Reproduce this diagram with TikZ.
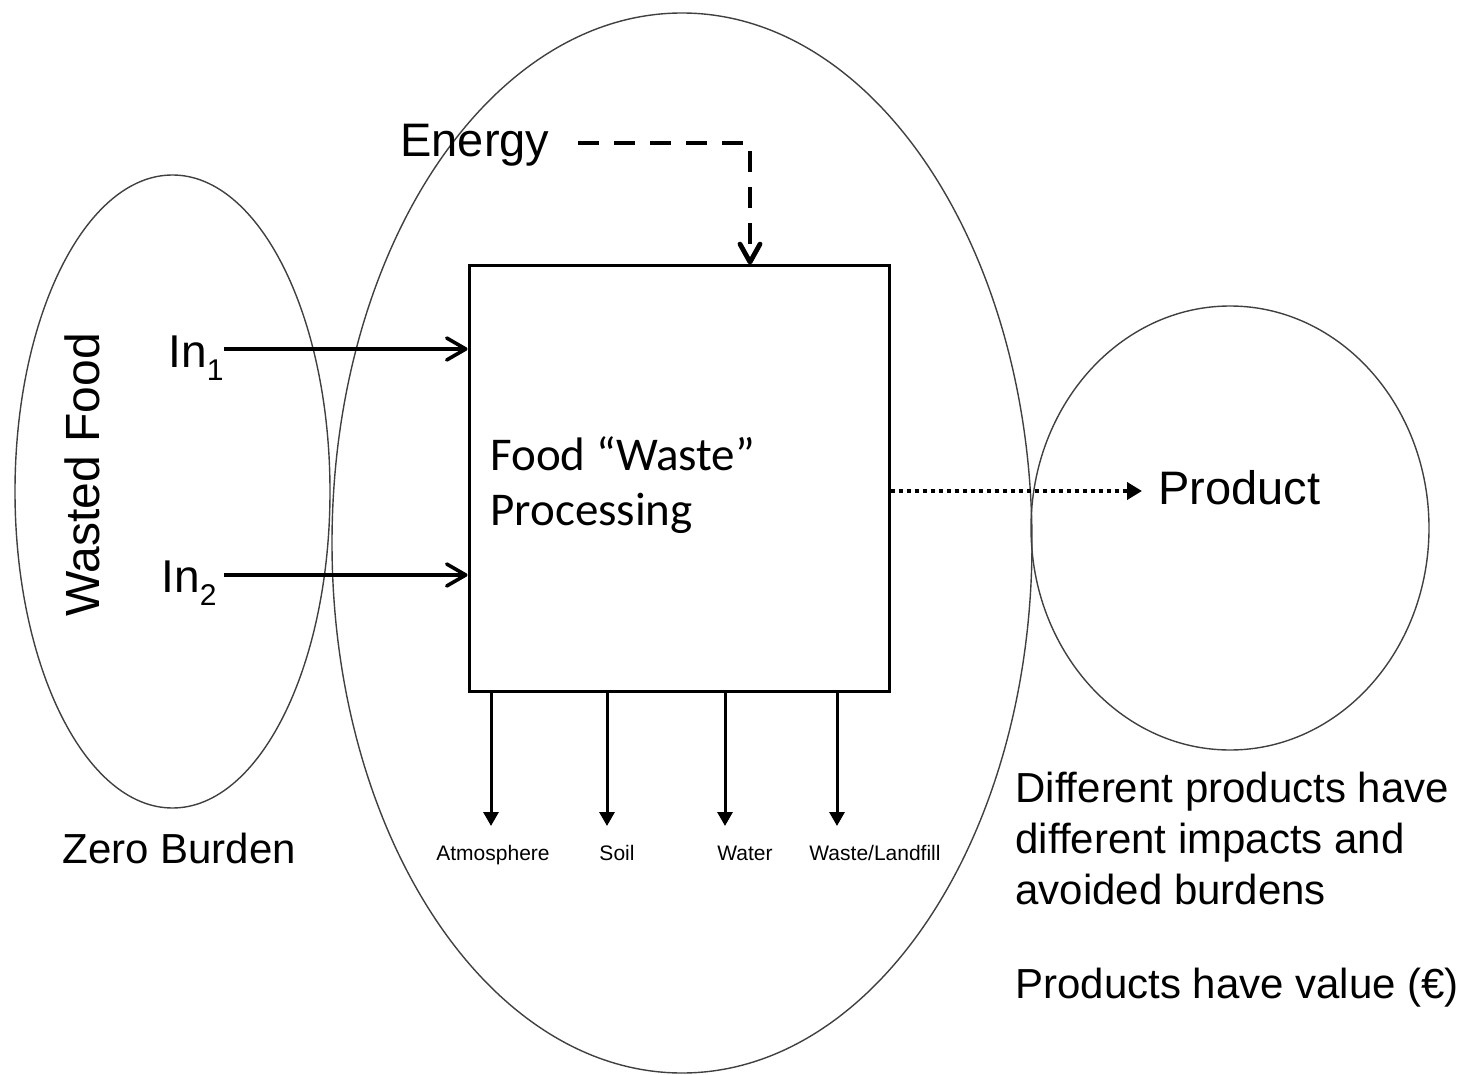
\documentclass[tikz,border=0pt]{standalone}
\usepackage{fontspec}
\setmainfont{Liberation Sans}
\newfontfamily\calibri{Carlito}
\usetikzlibrary{arrows.meta,shapes.geometric}
\begin{document}
\begin{tikzpicture}[x=0.5pt,y=-0.5pt,
  zone/.style={ellipse,draw=black!75,line width=0.7pt,inner sep=0pt},
  txt/.style={inner sep=0pt,font=\fontsize{23.5}{28}\selectfont},
  note/.style={inner sep=0pt,font=\fontsize{21}{25.5}\selectfont,align=left},
  small/.style={inner sep=0pt,font=\fontsize{10.5}{12}\selectfont},
  flow/.style={line width=1.8pt,-{Straight Barb[round,length=9.5pt,width=11pt]}},
  energyflow/.style={line width=2.4pt,dash pattern=on 10.5pt off 7.5pt,-{Straight Barb[round,length=9pt,width=10pt]}},
  outflow/.style={line width=1.5pt,-{Triangle[length=7pt,width=7.5pt]}},
  dotflow/.style={line width=2pt,dash pattern=on 2pt off 2pt,-{Triangle[length=7.5pt,width=8.5pt]}},
  procbox/.style={draw,line width=1.5pt,minimum width=210pt,minimum height=212.5pt,inner sep=0pt}
]
\useasboundingbox (0,0) rectangle (1467,1075);

% ellipses
\node[zone,minimum width=157.5pt,minimum height=316.5pt] (wastezone) at (172.5,491.5) {};
\node[zone,minimum width=350pt,minimum height=530pt] (proczone) at (682,543) {};
\node[zone,minimum width=199pt,minimum height=222pt] (prodzone) at (1230,528) {};

% box
\node[procbox] (box) at (679,478.5) {};
\node[inner sep=0pt,anchor=west,align=left,font=\calibri\fontsize{23.5}{27.5}\selectfont] (proc) at (490,485) {Food “Waste”\\Processing};

% texts
\node[txt,anchor=base west] (energy) at (400,157) {Energy};
\node[txt,anchor=base west,font=\fontsize{23}{28}\selectfont] (in1) at (168,367) {In\raisebox{-6.5pt}{\fontsize{15}{15}\selectfont 1}};
\node[txt,anchor=base west,font=\fontsize{23}{28}\selectfont] (in2) at (161,592) {In\raisebox{-6.5pt}{\fontsize{15}{15}\selectfont 2}};
\node[txt,anchor=base,rotate=90,font=\fontsize{24}{28}\selectfont] (wasted) at (99,475) {Wasted Food};
\node[txt,anchor=base west] (product) at (1158,504) {Product};
\node[note,anchor=base west] (zero) at (62,863) {Zero Burden};
\node[note,anchor=north west] (diff) at (1015,772) {Different products have\\different impacts and\\avoided burdens};
\node[note,anchor=base west] (value) at (1015,998) {Products have value (€)};

% inputs
\coordinate (i1) at (224,349);
\coordinate (i2) at (224,575);
\draw[flow] (i1) -- (i1 -| box.west);
\draw[flow] (i2) -- (i2 -| box.west);

% energy
\coordinate (e0) at (578,143);
\coordinate (e1) at (750,143);
\draw[energyflow] (e0) -- (e1) -- (e1 |- box.north);

% product
\coordinate (pd) at (1142,491);
\draw[dotflow] (pd -| box.east) -- (pd);

% outputs
\coordinate (o1) at (491,826);
\coordinate (o2) at (607,826);
\coordinate (o3) at (725,826);
\coordinate (o4) at (837,826);
\draw[outflow] (o1 |- box.south) -- (o1);
\draw[outflow] (o2 |- box.south) -- (o2);
\draw[outflow] (o3 |- box.south) -- (o3);
\draw[outflow] (o4 |- box.south) -- (o4);
\node[small,anchor=base] (atm) at (493,860) {Atmosphere};
\node[small,anchor=base] (soil) at (617,860) {Soil};
\node[small,anchor=base] (water) at (745,860) {Water};
\node[small,anchor=base] (landfill) at (875,860) {Waste/Landfill};
\end{tikzpicture}
\end{document}
